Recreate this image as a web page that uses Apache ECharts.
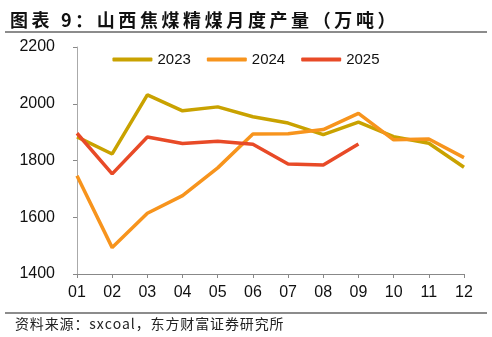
<!DOCTYPE html>
<html><head><meta charset="utf-8">
<script src="https://cdn.jsdelivr.net/npm/echarts@6/dist/echarts.min.js"></script>
<style>html,body{margin:0;padding:0;background:#fff}#c{width:492px;height:337px}</style>
</head><body><div id="c"></div>
<script>
const months = ['01','02','03','04','05','06','07','08','09','10','11','12'];
const s2023 = [1883,1823,2031,1975,1989,1954,1932,1891,1935,1884,1861,1776];
const s2024 = [1746,1493,1614,1676,1774,1893,1894,1909,1966,1873,1876,1810];
const s2025 = [1896,1753,1883,1860,1868,1857,1788,1784,1858];
const yTicks = [1400,1600,1800,2000,2200];
const titleText = '图表 9：山西焦煤精煤月度产量（万吨）';
const sourceText = '资料来源：sxcoal，东方财富证券研究所';
const spaced = (s, sp) => Array.from(s).join(sp);

const chart = echarts.init(document.getElementById('c'));
const mk = (name, data, color) => ({
  name, type: 'line', data, symbol: 'none', smooth: false,
  lineStyle: {color, width: 3.5}, itemStyle: {color}
});
chart.setOption({
  animation: false,
  title: {text: spaced(titleText, '\u2009'), left: 5, top: 6,
    textStyle: {fontFamily: 'Noto Sans CJK SC', fontSize: 18, fontWeight: 'bold', color: '#111'}},
  graphic: [
    {type: 'line', shape: {x1: 5, y1: 32, x2: 487, y2: 32}, style: {stroke: '#666', lineWidth: 1.5}},
    {type: 'line', shape: {x1: 5, y1: 313, x2: 487, y2: 313}, style: {stroke: '#666', lineWidth: 1.5}},
    {type: 'text', left: 15, top: 317, style: {text: spaced(sourceText, '\u200A'), font: '14px "Noto Sans CJK SC"', fill: '#222'}}
  ],
  legend: {top: 47, left: 'center', itemWidth: 40, itemHeight: 4, itemGap: 16, icon: 'roundRect',
    textStyle: {fontFamily: 'Liberation Sans', fontSize: 15, color: '#111'},
    data: ['2023','2024','2025']},
  grid: {left: 77, right: 28, top: 47, bottom: 63},
  xAxis: {type: 'category', data: months, boundaryGap: false,
    axisLine: {lineStyle: {color: '#888'}},
    axisTick: {show: true, alignWithLabel: true, length: 4, lineStyle: {color: '#888'}},
    axisLabel: {fontFamily: 'Liberation Sans', fontSize: 16, color: '#111', margin: 11}},
  yAxis: {type: 'value', min: 1400, max: 2200, interval: 200,
    axisLine: {show: true, lineStyle: {color: '#aaa'}},
    axisTick: {show: true, length: 4, lineStyle: {color: '#888'}},
    splitLine: {show: false},
    axisLabel: {fontFamily: 'Liberation Sans', fontSize: 16, color: '#111', margin: 22,
      formatter: v => yTicks.includes(v) ? String(v) : ''}},
  series: [mk('2023', s2023, '#C9A200'), mk('2024', s2024, '#F7941D'), mk('2025', s2025, '#E84A27')]
});
</script></body></html>
